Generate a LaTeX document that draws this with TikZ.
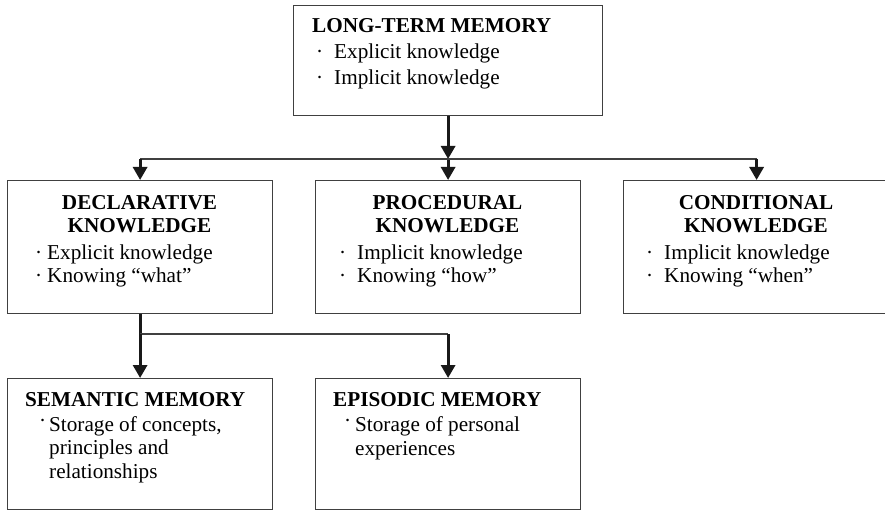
\documentclass[tikz,border=0pt]{standalone}
\usepackage{fontspec}
\setmainfont{Liberation Serif}
\usetikzlibrary{positioning,arrows.meta}

\newcommand{\bull}[1]{\makebox[#1][l]{\textperiodcentered}}
\newcommand{\hbull}[1]{\makebox[#1][l]{\raisebox{4pt}{\textperiodcentered}}}

\begin{document}
\begin{tikzpicture}[x=1pt, y=-1pt,
  box/.style={draw=black!75, line width=1.2pt, anchor=north west, inner sep=0pt},
  ttl/.style={font=\fontsize{21.2}{23}\selectfont\bfseries, align=center, inner sep=0pt, anchor=base},
  txt/.style={font=\fontsize{21.2}{23.5}\selectfont, align=left, inner sep=0pt, anchor=base west},
  flow/.style={draw=black!90, line width=3pt, -{Triangle[width=14pt,length=13pt]}},
  bar/.style={draw=black!75, line width=1.2pt}
]
\useasboundingbox (0,0) rectangle (885,510);

% boxes
\node[box, minimum width=309pt, minimum height=110pt] (ltm) at (293,5) {};
\node[box, minimum width=265pt, minimum height=133pt] (decl) at (7,180) {};
\node[box, minimum width=265pt, minimum height=133pt] (proc) at (315,180) {};
\node[box, minimum width=266pt, minimum height=133pt] (cond) at (623,180) {};
\node[box, minimum width=265pt, minimum height=131pt] (sem) at (7,378) {};
\node[box, minimum width=265pt, minimum height=131pt] (epi) at (315,378) {};

% texts (base = last line)
\node[ttl, anchor=base west] (ltmtitle) at (312,33) {LONG-TERM MEMORY};
\node[txt, font=\fontsize{21.2}{26.5}\selectfont] (ltmlist) at (316,85) {\bull{18pt}Explicit knowledge\\\bull{18pt}Implicit knowledge};

\node[ttl] (decltitle) at (139.5,233) {DECLARATIVE\\KNOWLEDGE};
\node[txt, font=\fontsize{21.2}{23}\selectfont] (decllist) at (35,283) {\bull{12pt}Explicit knowledge\\\bull{12pt}Knowing “what”};

\node[ttl] (proctitle) at (447.5,233) {PROCEDURAL\\KNOWLEDGE};
\node[txt, font=\fontsize{21.2}{23}\selectfont] (proclist) at (339,283) {\bull{18pt}Implicit knowledge\\\bull{18pt}Knowing “how”};

\node[ttl] (condtitle) at (756,233) {CONDITIONAL\\KNOWLEDGE};
\node[txt, font=\fontsize{21.2}{23}\selectfont] (condlist) at (646,283) {\bull{18pt}Implicit knowledge\\\bull{18pt}Knowing “when”};

\node[ttl, anchor=base west] (semtitle) at (25,406) {SEMANTIC MEMORY};
\node[txt] (semlist) at (39,478) {\hbull{10pt}Storage of concepts,\\\hspace*{10pt}principles and\\\hspace*{10pt}relationships};

\node[ttl, anchor=base west] (epititle) at (333,406) {EPISODIC MEMORY};
\node[txt] (epilist) at (344,455) {\hbull{11pt}Storage of personal\\\hspace*{11pt}experiences};

% connectors
\coordinate (jtop) at (ltm.south |- 0,159);
\coordinate (jleft) at (decl.north |- jtop);
\coordinate (jright) at (cond.north |- jtop);
\coordinate (jlow) at (decl.south |- 0,334);
\coordinate (jlowr) at (epi.north |- jlow);

\draw[flow] (ltm.south) -- (jtop);
\draw[flow] (jtop) -- (proc.north);
\draw[bar] (jleft) -- (jright);
\draw[flow] (jleft) -- (decl.north);
\draw[flow] (jright) -- (cond.north);

\draw[draw=black!90, line width=3pt] (decl.south) -- (jlow);
\draw[bar] (jlow) -- (jlowr);
\draw[flow] (jlow) -- (sem.north);
\draw[flow] (jlowr) -- (epi.north);

\end{tikzpicture}
\end{document}
